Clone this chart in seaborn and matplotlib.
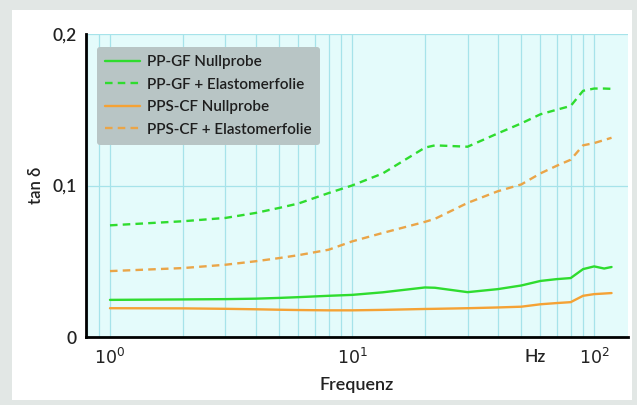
import matplotlib
matplotlib.use("Agg")
import matplotlib.pyplot as plt
import matplotlib.patches as mpatches
import matplotlib.ticker as mticker
import seaborn as sns
import pandas as pd
import numpy as np

# ---- data ----
freq = [1, 2, 3, 4, 5, 6, 8, 10, 13.4, 20, 22, 30, 40, 50, 60, 70, 80, 90, 100, 110, 118]
pp_gf_null = [0.0245, 0.0248, 0.0250, 0.0253, 0.0258, 0.0263, 0.0272, 0.0278, 0.0295, 0.0327, 0.0325,
              0.0296, 0.0316, 0.0340, 0.0370, 0.0382, 0.0389, 0.0448, 0.0466, 0.0452, 0.0462]
pp_gf_elast = [0.0737, 0.0764, 0.0786, 0.0819, 0.0852, 0.0881, 0.0950, 0.1000, 0.1080, 0.1250, 0.1265,
               0.1256, 0.1344, 0.1410, 0.1470, 0.1500, 0.1525, 0.1625, 0.1640, 0.1640, 0.1638]
pps_cf_null = [0.0190, 0.0189, 0.0186, 0.0183, 0.0180, 0.0178, 0.0176, 0.0176, 0.0179, 0.0185, 0.0186,
               0.0190, 0.0195, 0.0200, 0.0216, 0.0224, 0.0230, 0.0272, 0.0283, 0.0287, 0.0290]
pps_cf_elast = [0.0435, 0.0455, 0.0477, 0.0500, 0.0521, 0.0540, 0.0576, 0.0631, 0.0687, 0.0760, 0.0780,
                0.0885, 0.0962, 0.1007, 0.1080, 0.1130, 0.1170, 0.1265, 0.1280, 0.1300, 0.1315]
labels = ["PP-GF Nullprobe", "PP-GF + Elastomerfolie", "PPS-CF Nullprobe", "PPS-CF + Elastomerfolie"]
y_ticks = [0, 0.1, 0.2]
y_ticklabels = ["0", "0,1", "0,2"]
x_ticks = [1, 10, 100]
x_ticklabels = [r"$10^0$", r"$10^1$", r"$10^2$"]

series = [pp_gf_null, pp_gf_elast, pps_cf_null, pps_cf_elast]
df = pd.concat([pd.DataFrame({"Frequenz": freq, "tan": v, "Serie": lab}) for v, lab in zip(series, labels)],
               ignore_index=True)

sns.set_style("white")
plt.rcParams["font.family"] = ["Lato", "DejaVu Sans"]

GREEN = "#2fdc2f"
ORANGE = "#f5a235"
ORANGE_D = "#eaa548"

fig = plt.figure(figsize=(6.37, 4.05), dpi=100, facecolor="#e2e7e5")
fig.patches.append(mpatches.Rectangle((12 / 637, 5 / 405), 620 / 637, 390 / 405,
                                      transform=fig.transFigure, facecolor="white",
                                      edgecolor="none", zorder=-10))
ax = fig.add_axes([86 / 637, 68 / 405, 542 / 637, 303 / 405])
ax.set_facecolor("#e4fbfb")

palette = {labels[0]: GREEN, labels[1]: GREEN, labels[2]: ORANGE, labels[3]: ORANGE_D}
dashes = {labels[0]: "", labels[1]: (3.2, 2.2), labels[2]: "", labels[3]: (3.2, 2.2)}
sns.lineplot(data=df, x="Frequenz", y="tan", hue="Serie", style="Serie", palette=palette,
             dashes=dashes, hue_order=labels, style_order=labels, linewidth=1.7, ax=ax, zorder=3)

ax.set_xscale("log")
ax.set_xlim(0.796, 138)
ax.set_ylim(0, 0.2)
ax.xaxis.set_major_locator(mticker.FixedLocator(x_ticks))
ax.xaxis.set_minor_locator(mticker.LogLocator(base=10, subs=np.arange(2, 10)))
ax.xaxis.set_minor_formatter(mticker.NullFormatter())
ax.set_xticks(x_ticks)
ax.set_xticklabels(x_ticklabels)
ax.set_yticks(y_ticks)
ax.set_yticklabels(y_ticklabels)
ax.grid(True, which="both", axis="x", color="#a6e3ea", linewidth=0.9, zorder=1)
ax.grid(True, which="major", axis="y", color="#a6e3ea", linewidth=0.9, zorder=1)
ax.set_axisbelow(True)
ax.tick_params(axis="both", which="both", length=0, labelsize=12.5, colors="#222222")
ax.tick_params(axis="x", pad=7)
ax.tick_params(axis="y", pad=7)
for lab in ax.get_yticklabels():
    lab.set_fontweight("semibold")

for s in ["top", "right"]:
    ax.spines[s].set_visible(False)
for s in ["left", "bottom"]:
    ax.spines[s].set_color("black")
    ax.spines[s].set_linewidth(2)

ax.set_xlabel("Frequenz", fontsize=13, color="#222222", fontweight="semibold", labelpad=7)
ax.set_ylabel("tan δ", fontsize=12, color="#222222", fontweight="semibold", labelpad=6)
ax.text(57, -0.065, "Hz", transform=ax.get_xaxis_transform(), fontsize=12.5, color="#222222",
        fontweight="semibold", ha="center", va="center")

leg = ax.legend(title=None, loc="upper left", bbox_to_anchor=(11 / 542, 1 - 13 / 303),
                borderaxespad=0, frameon=True, fancybox=True, framealpha=1,
                facecolor="#b8c5c5", edgecolor="none", fontsize=11, handlelength=2.25,
                handletextpad=0.45, labelspacing=0.55, borderpad=0.55)
for t in leg.get_texts():
    t.set_color("#1e1e1e")
    t.set_fontweight("semibold")

fig.savefig("out.png", dpi=100, facecolor=fig.get_facecolor())
